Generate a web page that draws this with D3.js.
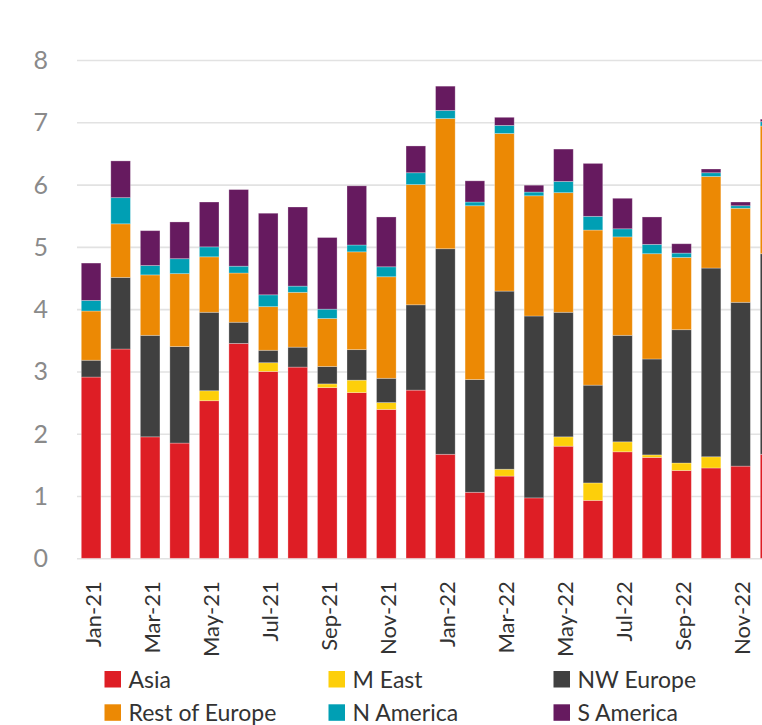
<!DOCTYPE html>
<html>
<head>
<meta charset="utf-8">
<script src="https://cdn.jsdelivr.net/npm/d3@7"></script>
<style>
  body { margin: 0; background: #fff; overflow: hidden; }
  svg { display: block; font-family: Lato, "Open Sans", sans-serif; }
</style>
</head>
<body>
<svg id="chart"></svg>
<script>
var months = ["Jan-21", "Feb-21", "Mar-21", "Apr-21", "May-21", "Jun-21", "Jul-21", "Aug-21", "Sep-21", "Oct-21", "Nov-21", "Dec-21",
              "Jan-22", "Feb-22", "Mar-22", "Apr-22", "May-22", "Jun-22", "Jul-22", "Aug-22", "Sep-22", "Oct-22", "Nov-22", "Dec-22"]
var asia       = [2.91, 3.36, 1.95, 1.85, 2.53, 3.45, 3.00, 3.07, 2.74, 2.66, 2.39, 2.70, 1.67, 1.06, 1.32, 0.97, 1.80, 0.93, 1.71, 1.62, 1.41, 1.45, 1.48, 1.67]
var mEast      = [0, 0, 0, 0, 0.16, 0, 0.14, 0, 0.06, 0.20, 0.11, 0, 0, 0, 0.11, 0, 0.15, 0.28, 0.16, 0.04, 0.12, 0.18, 0, 0]
var nwEurope   = [0.27, 1.15, 1.63, 1.55, 1.26, 0.34, 0.20, 0.32, 0.28, 0.49, 0.39, 1.37, 3.30, 1.81, 2.86, 2.92, 2.00, 1.57, 1.71, 1.54, 2.14, 3.03, 2.63, 3.22]
var restEurope = [0.79, 0.86, 0.97, 1.17, 0.89, 0.79, 0.70, 0.88, 0.77, 1.57, 1.63, 1.93, 2.09, 2.79, 2.53, 1.93, 1.92, 2.49, 1.58, 1.69, 1.16, 1.47, 1.51, 2.05]
var nAmerica   = [0.17, 0.42, 0.15, 0.24, 0.16, 0.11, 0.19, 0.10, 0.15, 0.11, 0.16, 0.19, 0.13, 0.06, 0.13, 0.06, 0.18, 0.22, 0.13, 0.15, 0.07, 0.06, 0.04, 0.07]
var sAmerica   = [0.60, 0.59, 0.56, 0.59, 0.72, 1.23, 1.31, 1.27, 1.15, 0.95, 0.80, 0.43, 0.39, 0.34, 0.13, 0.11, 0.52, 0.85, 0.49, 0.44, 0.15, 0.06, 0.06, 0.04]
var seriesNames = ["Asia", "M East", "NW Europe", "Rest of Europe", "N America", "S America"]
var seriesValues = [asia, mEast, nwEurope, restEurope, nAmerica, sAmerica]
var colors = ["#de1e25", "#fdcf0a", "#404040", "#ec8904", "#009fb4", "#661a5f"]
var yTicks = [0, 1, 2, 3, 4, 5, 6, 7, 8]

function drawChart() {
    let width = 762, height = 725;

    // one row per month, keyed by series name
    var table = months.map((m, i) => {
        var row = { month: m }
        seriesNames.forEach((s, j) => { row[s] = seriesValues[j][i] })
        return row
    })
    var stacked = d3.stack().keys(seriesNames)(table)

    var svg = d3.select("#chart")
        .attr("width", width)
        .attr("height", height)

    var xScale = d3.scaleBand()
        .domain(months)
        .range([81.3, 779.9])
        .paddingInner(0.336)
        .paddingOuter(0)
    var yScale = d3.scaleLinear()
        .domain([0, 8])
        .range([558.3, 60])

    // gridlines + y labels
    var yAxis = svg.append("g")
        .attr("class", "axis axis-y")
        .attr("transform", "translate(77,0)")
        .call(d3.axisRight(yScale).tickValues(yTicks).tickSize(width - 77).tickFormat(""))
    yAxis.select(".domain").remove()
    yAxis.selectAll("line")
        .attr("stroke", "#e2e2e2")
        .attr("stroke-width", 1.6)

    svg.append("g")
        .selectAll("text")
        .data(yTicks)
        .enter()
        .append("text")
        .attr("x", 48)
        .attr("y", d => yScale(d))
        .attr("dy", "0.36em")
        .attr("text-anchor", "end")
        .attr("fill", "#8a8a8a")
        .style("font-size", "25px")
        .text(d => d)

    // bars
    svg.append("g")
        .selectAll("g")
        .data(stacked)
        .enter()
        .append("g")
        .attr("fill", (d, i) => colors[i])
        .selectAll("rect")
        .data(d => d)
        .enter()
        .append("rect")
        .attr("x", d => xScale(d.data.month))
        .attr("y", d => yScale(d[1]))
        .attr("width", xScale.bandwidth())
        .attr("height", d => yScale(d[0]) - yScale(d[1]))
        .attr("stroke", "#ffffff")
        .attr("stroke-opacity", 0.35)
        .attr("stroke-width", 0.8)

    // x labels, every other month
    var xAxis = svg.append("g")
        .attr("class", "axis axis-x")
        .attr("transform", "translate(0,558.3)")
        .call(d3.axisBottom(xScale).tickValues(months.filter((m, i) => i % 2 == 0)).tickSize(0))
    xAxis.select(".domain").remove()
    xAxis.selectAll("text")
        .attr("transform", "rotate(-90)")
        .attr("x", -23)
        .attr("y", 0)
        .attr("dy", "0.45em")
        .attr("text-anchor", "end")
        .attr("fill", "#333")
        .style("font-family", "Lato, sans-serif")
        .style("font-size", "22px")

    // legend
    var legendX = [104.5, 328.5, 553.5], legendY = [671, 704.3]
    var legend = svg.append("g")
        .selectAll("g")
        .data(seriesNames)
        .enter()
        .append("g")
        .attr("transform", (d, i) => "translate(" + legendX[i % 3] + "," + legendY[Math.floor(i / 3)] + ")")
    legend.append("rect")
        .attr("width", 16.5)
        .attr("height", 16.5)
        .attr("fill", (d, i) => colors[i])
    legend.append("text")
        .attr("x", 24)
        .attr("y", 16.7)
        .attr("fill", "#333")
        .style("font-size", "23px")
        .text(d => d)
}
drawChart();
</script>
</body>
</html>
